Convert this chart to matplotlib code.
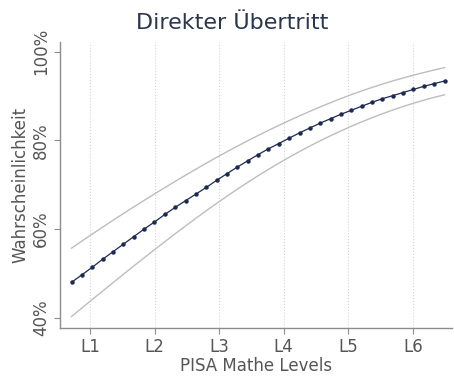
import numpy as np
import matplotlib
matplotlib.use("Agg")
import matplotlib.pyplot as plt

# PISA math score (points every 10) and level boundaries
scores = list(range(340, 701, 10))
level_pos = [357.77, 420.07, 482.38, 544.68, 606.99, 669.30]
level_labels = ["L1", "L2", "L3", "L4", "L5", "L6"]

# predicted probability (%) with confidence band
mean = [48.0, 49.7, 51.4, 53.2, 54.9, 56.6, 58.3, 60.0, 61.6, 63.3,
        64.9, 66.4, 67.9, 69.4, 71.0, 72.5, 74.0, 75.4, 76.8, 78.1,
        79.3, 80.5, 81.7, 82.8, 83.9, 84.9, 85.9, 86.8, 87.7, 88.6,
        89.4, 90.1, 90.8, 91.5, 92.2, 92.8, 93.4]
upper = [55.7, 57.30, 58.88, 60.44, 61.98, 63.50, 65.00, 66.47, 67.92, 69.35,
         70.76, 72.15, 73.52, 74.86, 76.17, 77.45, 78.70, 79.92, 81.11, 82.26,
         83.38, 84.47, 85.53, 86.56, 87.56, 88.52, 89.44, 90.32, 91.16, 91.95,
         92.70, 93.41, 94.08, 94.71, 95.31, 95.88, 96.42]
lower = [40.3, 42.22, 44.13, 46.03, 47.92, 49.80, 51.67, 53.52, 55.35, 57.16,
         58.95, 60.71, 62.44, 64.14, 65.80, 67.42, 69.00, 70.54, 72.03, 73.47,
         74.86, 76.20, 77.49, 78.73, 79.92, 81.06, 82.15, 83.19, 84.18, 85.12,
         86.01, 86.85, 87.64, 88.38, 89.07, 89.71, 90.30]
yticks = [40, 60, 80, 100]

gray_txt = "#555555"
navy = "#1c2a55"

fig = plt.figure(figsize=(4.54, 3.78), dpi=100)
ax = fig.add_axes([0.132, 0.132, 0.863, 0.757])

for x in level_pos:
    ax.axvline(x, color="#d4d4d4", linestyle=":", linewidth=0.8, zorder=0)

ax.plot(scores, upper, color="#bdbdbd", linewidth=1.0)
ax.plot(scores, lower, color="#bdbdbd", linewidth=1.0)
ax.plot(scores, mean, color=navy, linewidth=0.9, marker="o", markersize=2.2)

ax.set_xlim(328.8, 706.9)
ax.set_ylim(37.68, 102.2)
ax.set_xticks(level_pos)
ax.set_xticklabels(level_labels)
ax.set_yticks(yticks)
ax.set_yticklabels([f"{v}%" for v in yticks], rotation=90, va="center")

for side in ["top", "right"]:
    ax.spines[side].set_visible(False)
for side in ["left", "bottom"]:
    ax.spines[side].set_color("#8c8c8c")
    ax.spines[side].set_linewidth(1.0)
ax.tick_params(colors="#8c8c8c", length=4, width=0.8, labelsize=12,
               labelcolor=gray_txt)
ax.tick_params(axis="x", pad=3)
ax.tick_params(axis="y", pad=3)

ax.set_xlabel("PISA Mathe Levels", fontsize=12, color=gray_txt, labelpad=1)
ax.set_ylabel("Wahrscheinlichkeit", fontsize=12, color=gray_txt, labelpad=2)
fig.text(0.511, 0.94, "Direkter Übertritt", fontsize=16, color="#2a3550",
         ha="center", va="center")

fig.savefig("out.png", dpi=100, facecolor="white")
